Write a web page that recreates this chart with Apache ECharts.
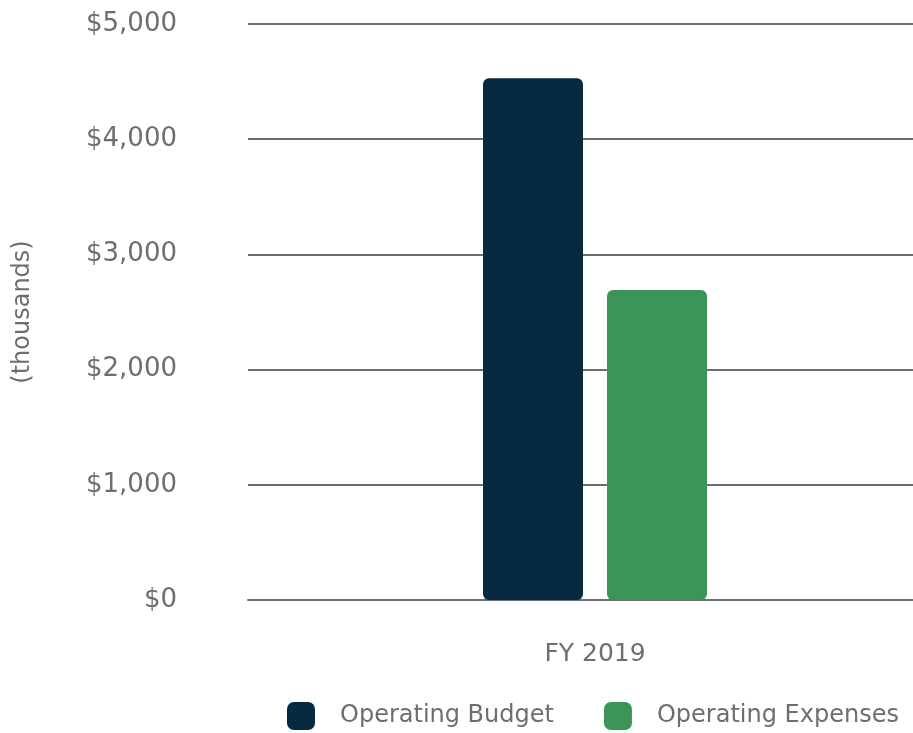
<!DOCTYPE html>
<html>
<head>
<meta charset="utf-8">
<script src="https://cdn.jsdelivr.net/npm/echarts@6/dist/echarts.min.js"></script>
<style>
  html, body { margin: 0; padding: 0; background: #fff; }
  #chart { width: 913px; height: 733px; }
</style>
</head>
<body>
<div id="chart"></div>
<script>
const categories = ['FY 2019']
const seriesNames = ['Operating Budget', 'Operating Expenses']
const budgetValues = [4530]
const expenseValues = [2690]
const yTicks = [0, 1000, 2000, 3000, 4000, 5000]

const textColor = '#6d6e71'
const fontFamily = '"DejaVu Sans", "Open Sans", sans-serif'

const chart = echarts.init(document.getElementById('chart'), null, { renderer: 'canvas' })

const option = {
  animation: false,
  textStyle: { fontFamily: fontFamily },
  // plot area runs past the right edge, so the category centre sits at ~595px
  grid: { left: 248, width: 694, top: 24, bottom: 133, outerBoundsMode: 'none' },
  legend: {
    bottom: -2,
    left: 282,
    itemWidth: 28,
    itemHeight: 28,
    itemGap: 50,
    icon: 'roundRect',
    textStyle: { color: textColor, fontSize: 24, fontFamily: fontFamily, padding: [0, 0, 0, 20] },
    data: seriesNames
  },
  xAxis: {
    type: 'category',
    data: categories,
    axisLine: { show: true, lineStyle: { color: textColor, width: 2 } },
    axisTick: { show: false },
    axisLabel: { color: textColor, fontSize: 25, margin: 42 }
  },
  yAxis: {
    type: 'value',
    min: yTicks[0],
    max: yTicks[yTicks.length - 1],
    interval: 1000,
    name: '(thousands)',
    nameLocation: 'middle',
    nameGap: 213,
    nameTextStyle: { color: textColor, fontSize: 24 },
    axisLine: { show: false },
    axisTick: { show: false },
    splitLine: { lineStyle: { color: textColor, width: 2 } },
    axisLabel: {
      color: textColor,
      fontSize: 26,
      margin: 71,
      formatter: v => '$' + v.toLocaleString('en-US')
    }
  },
  series: [
    {
      name: seriesNames[0],
      type: 'bar',
      data: budgetValues,
      barWidth: 100,
      barGap: '24%',
      itemStyle: { color: '#072a40', borderRadius: 6 }
    },
    {
      name: seriesNames[1],
      type: 'bar',
      data: expenseValues,
      barWidth: 100,
      itemStyle: { color: '#3d9458', borderRadius: 6 }
    }
  ]
}

chart.setOption(option)
</script>
</body>
</html>
